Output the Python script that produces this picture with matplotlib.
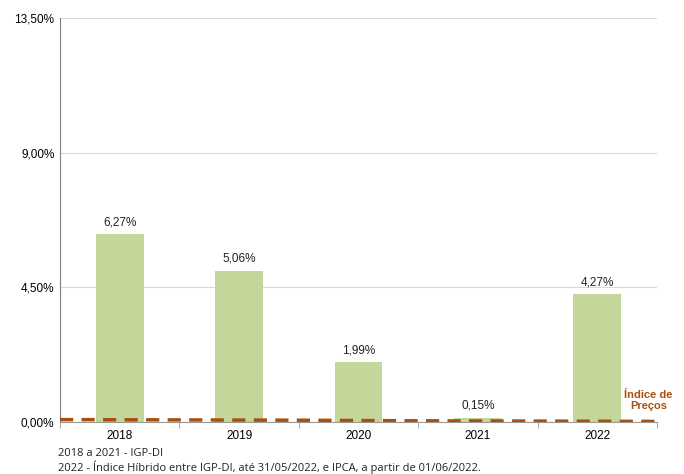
import matplotlib
matplotlib.use("Agg")
import matplotlib.pyplot as plt
import numpy as np

anos = ['2018', '2019', '2020', '2021', '2022']
rentabilidade = [6.27, 5.06, 1.99, 0.15, 4.27]
rotulos = ['6,27%', '5,06%', '1,99%', '0,15%', '4,27%']
# indice de precos (linha tracejada), valores nas bordas das categorias
indice_precos = [0.08, 0.07, 0.06, 0.04, 0.03, 0.02]
yticks = [0.0, 4.5, 9.0, 13.5]
ytick_labels = ['0,00%', '4,50%', '9,00%', '13,50%']

bar_color = '#c4d79b'
line_color = '#a9500e'

fig = plt.figure(figsize=(6.84, 4.74), dpi=100)
ax = fig.add_axes([60/684, 1 - 422/474, 597/684, 404/474])

x = np.arange(len(anos))
ax.bar(x, rentabilidade, width=0.4, color=bar_color, zorder=2)
for xi, v, lab in zip(x, rentabilidade, rotulos):
    ax.text(xi, v + 0.2, lab, ha='center', va='bottom', fontsize=8.5,
            family='Liberation Sans', color='#222222')

xl = np.arange(len(indice_precos)) - 0.5
ln, = ax.plot(xl, indice_precos, color=line_color, lw=2.5, zorder=3)
ln.set_dashes([3.8, 2.4])

ax.set_xlim(-0.5, 4.5)
ax.set_ylim(0, 13.5)
ax.set_yticks(yticks)
ax.set_yticklabels(ytick_labels, fontsize=8.5, family='Liberation Sans')
ax.set_xticks(x)
ax.set_xticklabels(anos, fontsize=8.5, family='Liberation Sans')
ax.tick_params(axis='x', length=0, pad=6)
ax.set_xticks(np.arange(len(anos) + 1) - 0.5, minor=True)
ax.tick_params(axis='x', which='minor', length=4, color='#999999')
ax.tick_params(axis='y', length=0, pad=4)

ax.grid(axis='y', color='#d9d9d9', lw=0.8, zorder=0)
for s in ['top', 'right']:
    ax.spines[s].set_visible(False)
ax.spines['left'].set_color('#7f7f7f')
ax.spines['bottom'].set_color('#999999')

ax.text(4.43, 0.37, 'Índice de\nPreços', ha='center', va='bottom', fontsize=8,
        fontweight='bold', color=line_color, family='Liberation Sans',
        linespacing=1.1)

fig.text(58/684, 1 - 453/474, '2018 a 2021 - IGP-DI', fontsize=8,
         family='Open Sans', va='center', color='#222222')
fig.text(58/684, 1 - 467/474,
         '2022 - Índice Híbrido entre IGP-DI, até 31/05/2022, e IPCA, a partir de 01/06/2022.',
         fontsize=8, family='Open Sans', va='center', color='#222222')

fig.savefig('out.png', dpi=100)
